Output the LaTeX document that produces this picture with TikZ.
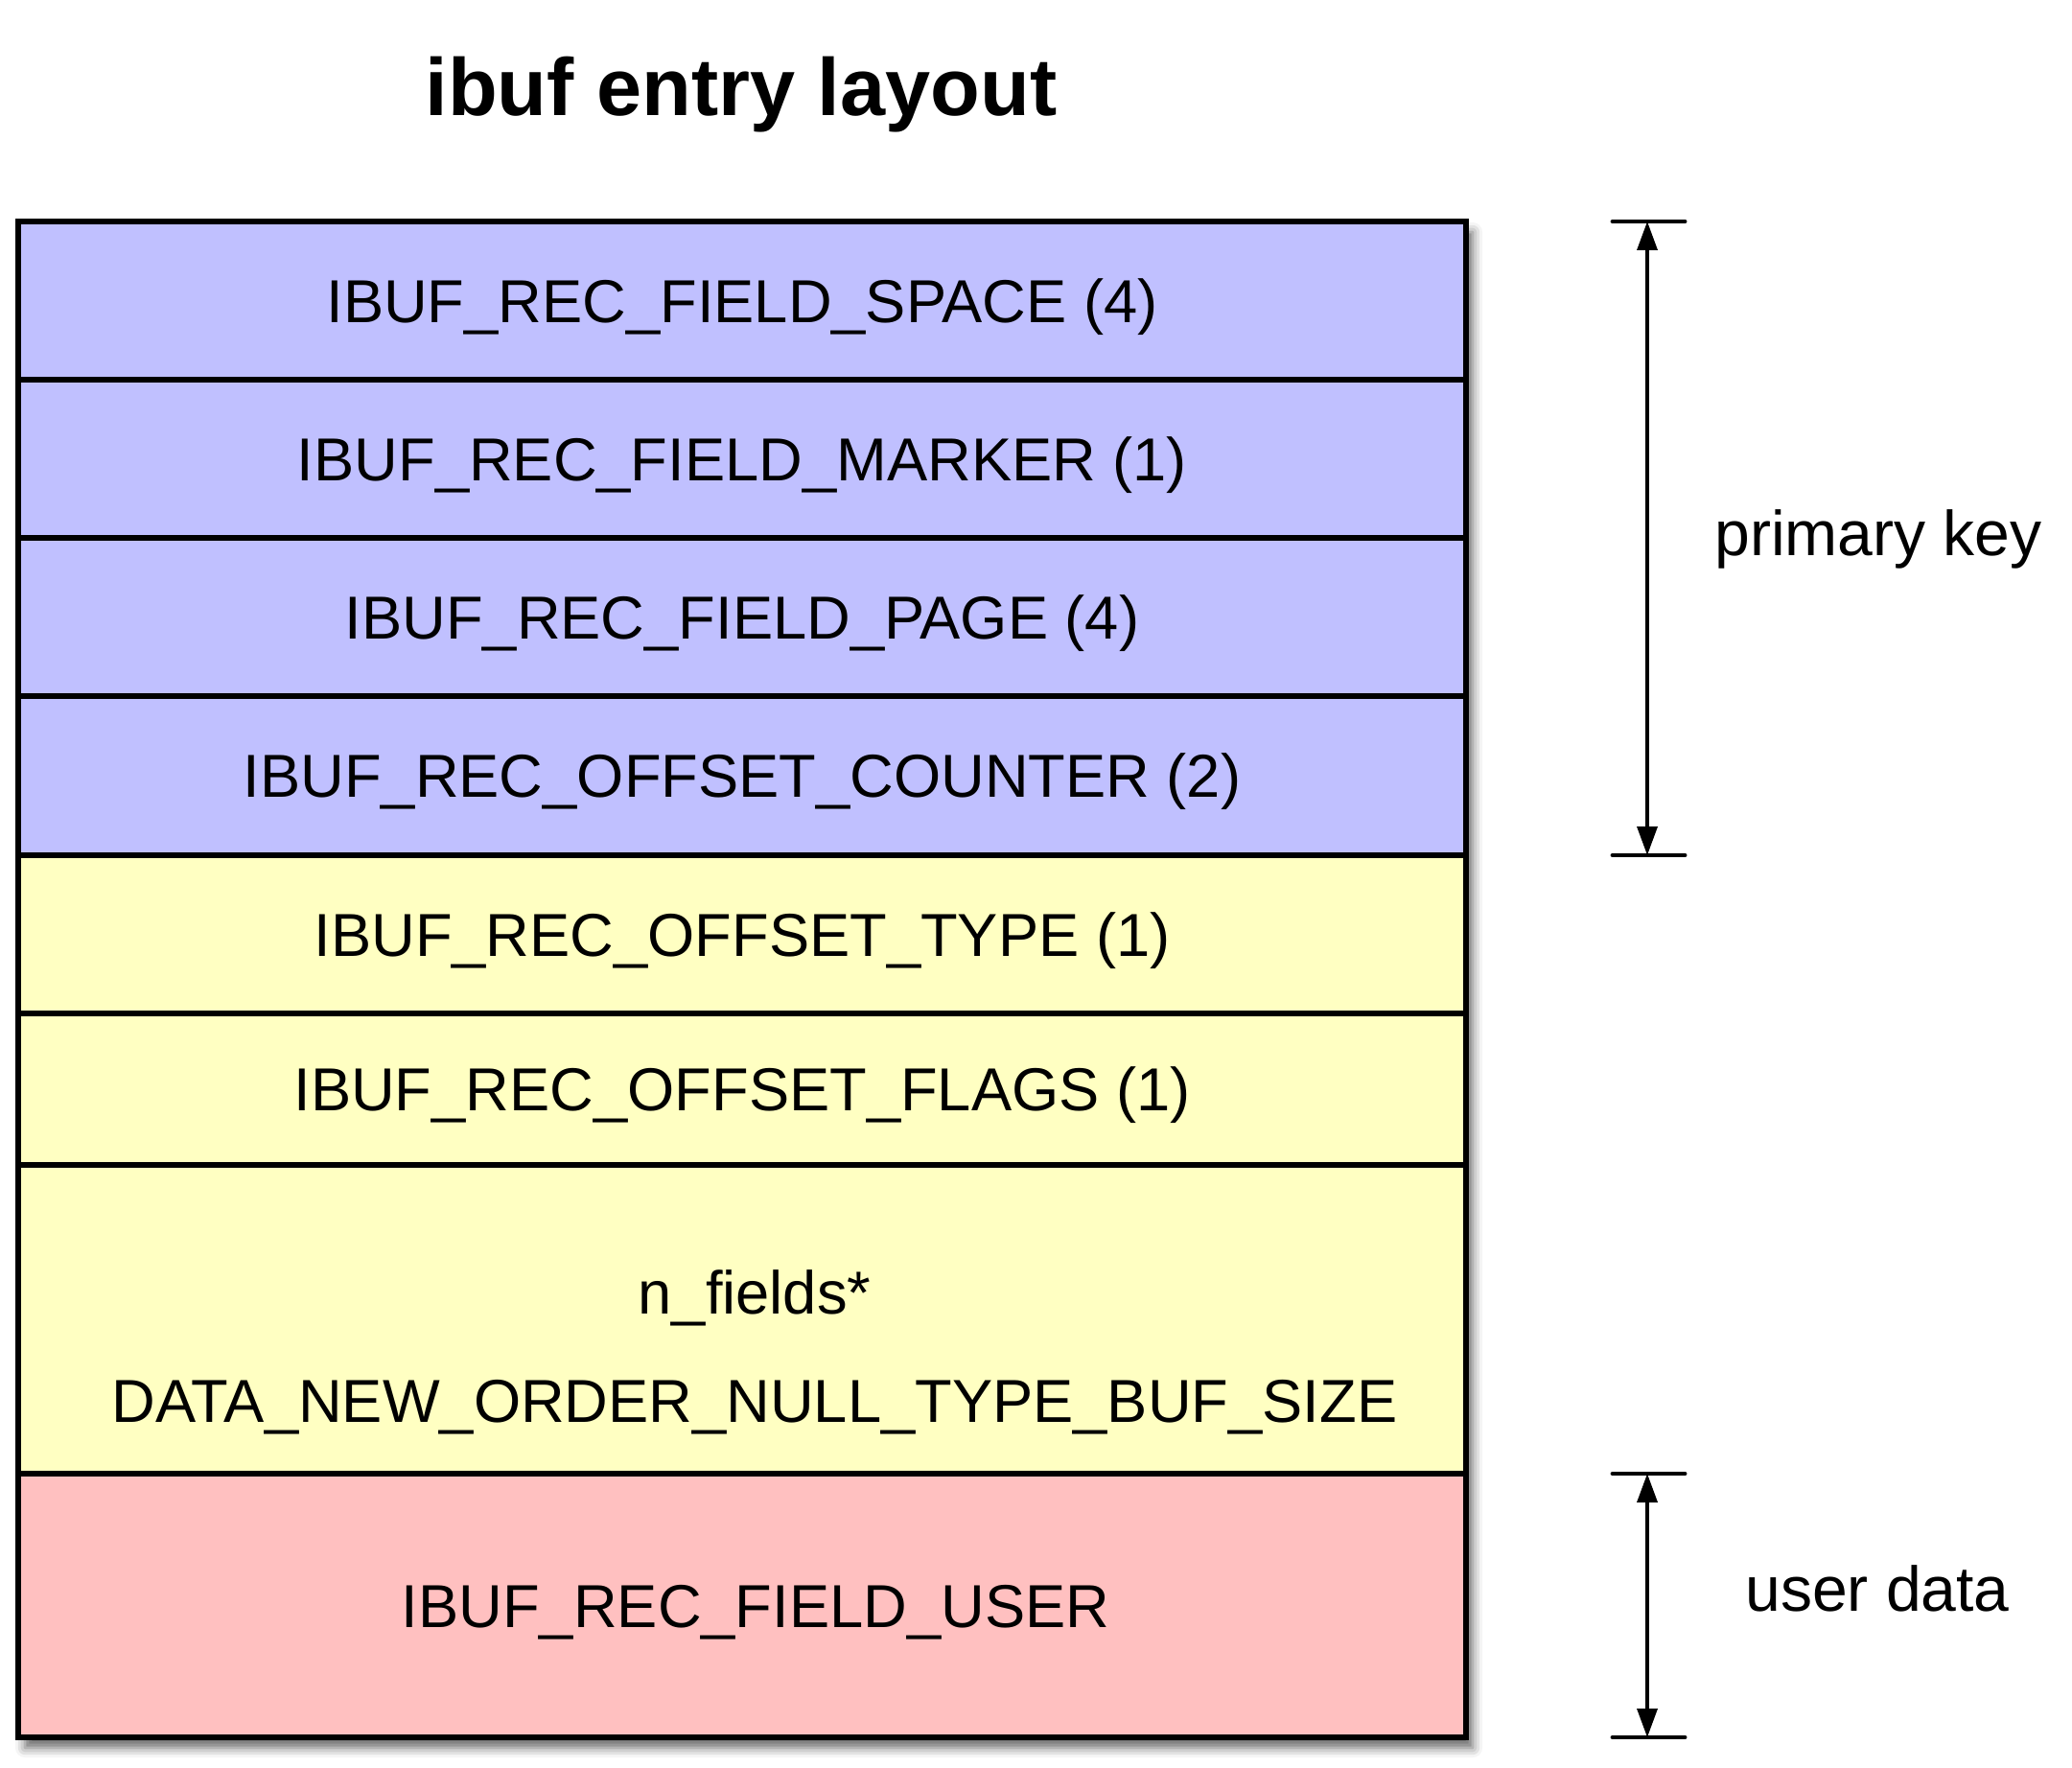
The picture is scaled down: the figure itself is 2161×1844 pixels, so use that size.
\documentclass[tikz,border=0pt]{standalone}
\usepackage{fontspec}
\setmainfont{Liberation Sans}
\usetikzlibrary{arrows.meta}
\usetikzlibrary{positioning,shadows.blur}
\definecolor{keyblue}{RGB}{192,192,255}
\definecolor{offyellow}{RGB}{255,255,194}
\definecolor{userpink}{RGB}{255,192,192}
\tikzset{
    field/.style={
        draw,
        rectangle,
        line width=1.6pt,
        minimum width=151mm,
        inner sep=0pt,
        outer sep=0pt,
        text height=12.9pt,
        text depth=0pt,
        font=\fontsize{18}{21}\selectfont
    },
    bar/.style={line width=1.4pt, line cap=round},
    span/.style={
        line width=1pt,
        {Triangle[length=3mm, width=2.1mm]}-{Triangle[length=3mm, width=2.1mm]}
    },
    side/.style={font=\fontsize{18.8}{22}\selectfont, anchor=base}
}

\begin{document}
\begin{tikzpicture}[x=0.1mm, y=-0.1mm]
    \useasboundingbox (0,0) rectangle (2161,1844);

    % Title
    \node[font=\bfseries\fontsize{24.1}{29}\selectfont, anchor=base] (title) at (773,121) {ibuf entry layout};

    % Frame with shadow
    \node[fill=white, minimum width=151mm, minimum height=158.1mm, inner sep=0pt,
        blur shadow={shadow xshift=0.7mm, shadow yshift=-1.1mm, shadow blur radius=1mm, shadow opacity=60}]
        (frame) at (774,1021.5) {};

    % Fields
    \node[field, fill=keyblue, minimum height=16.5mm] (space) at (774,313.5) {IBUF\_REC\_FIELD\_SPACE (4)};
    \node[field, fill=keyblue, minimum height=16.5mm] (marker) at (774,478.5) {IBUF\_REC\_FIELD\_MARKER (1)};
    \node[field, fill=keyblue, minimum height=16.5mm] (page) at (774,643.5) {IBUF\_REC\_FIELD\_PAGE (4)};
    \node[field, fill=keyblue, minimum height=16.6mm] (counter) at (774,809) {IBUF\_REC\_OFFSET\_COUNTER (2)};
    \node[field, fill=offyellow, minimum height=16.5mm] (type) at (774,974.5) {IBUF\_REC\_OFFSET\_TYPE (1)};
    \node[field, fill=offyellow, minimum height=15.8mm] (flags) at (774,1136) {IBUF\_REC\_OFFSET\_FLAGS (1)};
    \node[field, fill=offyellow, minimum height=32.2mm] (nfields) at (774,1376) {};
    \node[field, fill=userpink, minimum height=27.5mm] (user) at (774,1674.5) {\hspace*{2.8mm}IBUF\_REC\_FIELD\_USER};
    \node[font=\fontsize{18}{32.15}\selectfont, align=center, anchor=base] (nfieldsText) at (787,1483)
        {n\_fields*\\DATA\_NEW\_ORDER\_NULL\_TYPE\_BUF\_SIZE};

    % Brackets
    \coordinate (pkTop) at (1718,231);
    \coordinate (pkBot) at (1718,892);
    \coordinate (udTop) at (1718,1537);
    \coordinate (udBot) at (1718,1812);
    \draw[bar] ([xshift=-3.6mm]pkTop) -- ([xshift=3.9mm]pkTop);
    \draw[bar] ([xshift=-3.6mm]pkBot) -- ([xshift=3.9mm]pkBot);
    \draw[bar] ([xshift=-3.6mm]udTop) -- ([xshift=3.9mm]udTop);
    \draw[bar] ([xshift=-3.6mm]udBot) -- ([xshift=3.9mm]udBot);
    \draw[span] (pkTop) -- (pkBot);
    \draw[span] (udTop) -- (udBot);

    % Labels
    \node[side] (pkLabel) at (1959,580) {primary key};
    \node[side] (udLabel) at (1958,1680) {user data};
\end{tikzpicture}
\end{document}
